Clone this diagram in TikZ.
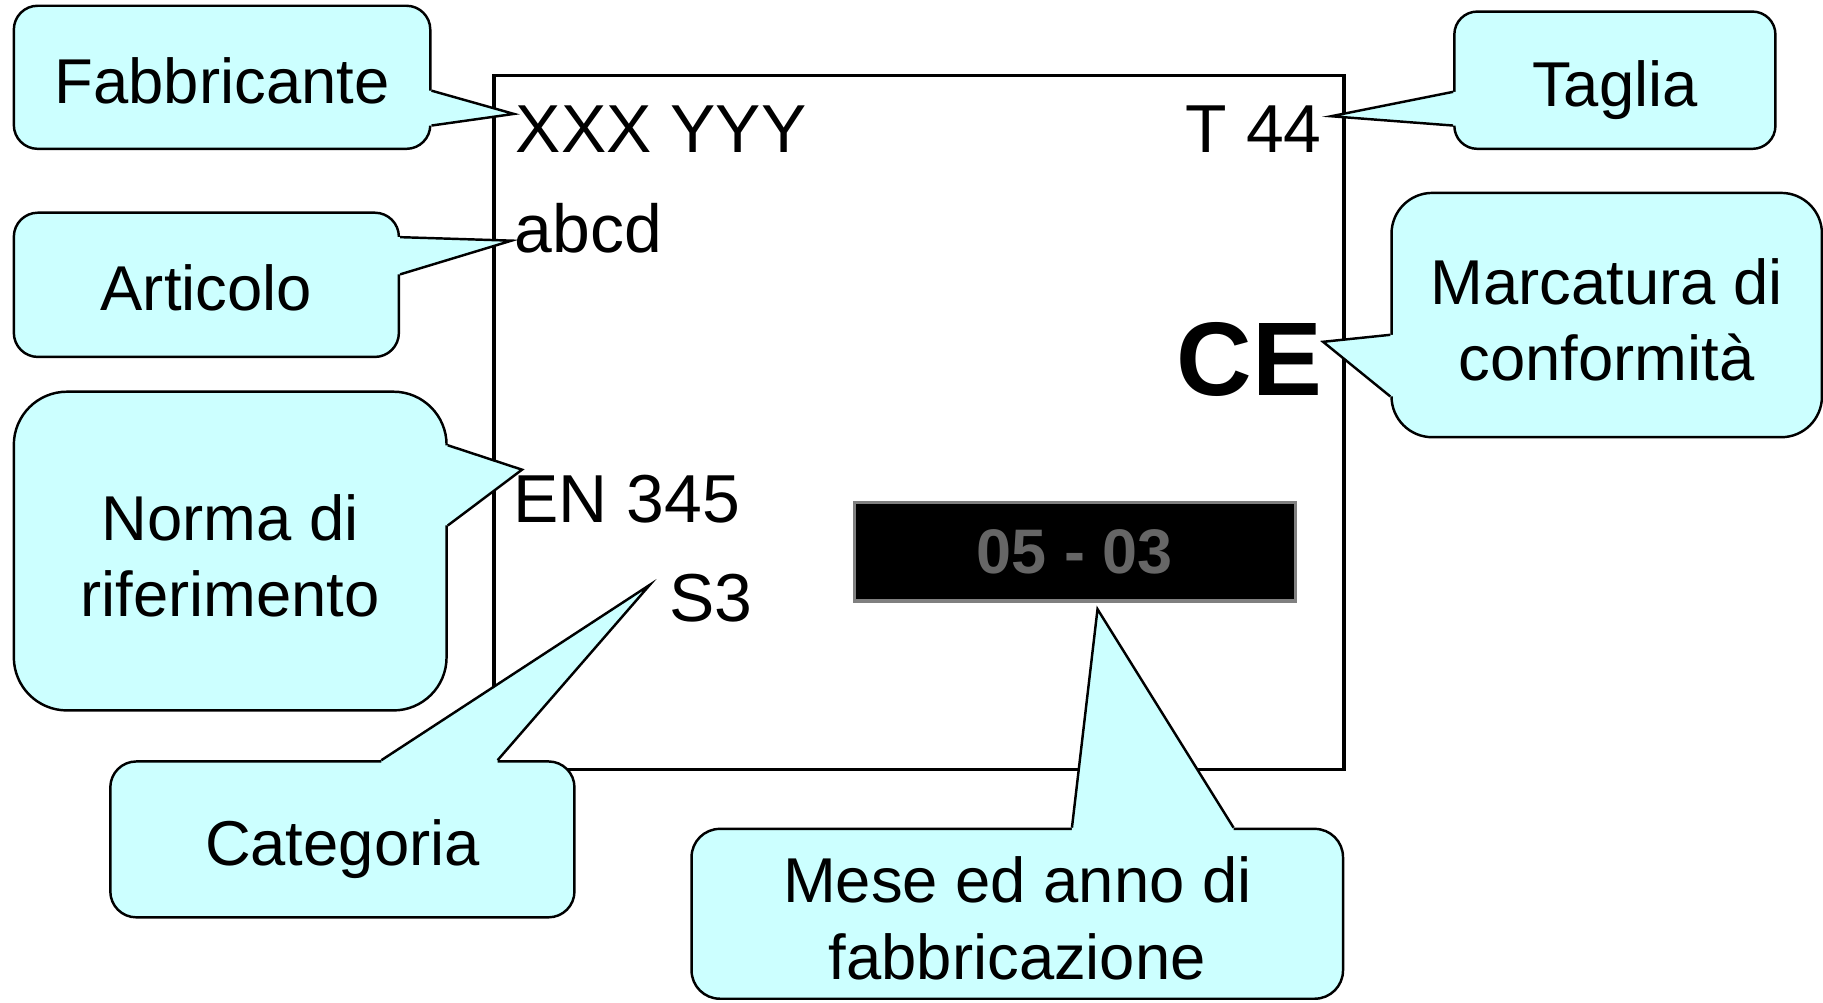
\documentclass[tikz,border=0pt]{standalone}
\usepackage{fontspec}
\setmainfont{Liberation Sans}
\usetikzlibrary{calc}
\definecolor{azzurro}{HTML}{CCFFFF}
\definecolor{grigiodata}{HTML}{666666}
\definecolor{grigiobordo}{HTML}{808080}

\tikzset{
  fumetto/.style={draw, line width=0.6pt, fill=azzurro, align=center, inner sep=0pt,
    text depth=0pt, text height=12.8pt, font=\fontsize{15.5}{18.7}\selectfont},
  duerighe/.style={text height=32pt},
  scritta/.style={inner sep=0pt, font=\fontsize{16.6}{20}\selectfont},
  bordo/.style={line width=0.6pt},
}

\begin{document}
\begin{tikzpicture}[x=0.01cm, y=-0.01cm]
    \useasboundingbox (0,0) rectangle (1568,862);

    % etichetta
    \draw[line width=0.8pt] (425,65) rectangle (1156,662);
    \node[scritta, anchor=base west] (xxx) at (443,131) {XXX YYY};
    \node[scritta, anchor=base east] (t44) at (1137.5,131) {T 44};
    \node[scritta, anchor=base west] (abcd) at (442,217) {abcd};
    \node[inner sep=0pt, anchor=base east, font=\fontsize{25.6}{30}\selectfont\bfseries] (ce) at (1138,340) {CE};
    \node[scritta, anchor=base west] (en) at (441,449) {EN 345};
    \node[scritta, anchor=base west] (s3) at (575,535) {S3};
    \node[draw=grigiobordo, fill=black, line width=0.8pt, minimum width=3.79cm, minimum height=0.85cm,
          text=grigiodata, font=\fontsize{15.4}{18}\selectfont\bfseries] (data) at (924.5,474.5) {05 - 03};

    % punte dei fumetti
    \coordinate (pFab) at (442,98);
    \coordinate (pArt) at (440,207);
    \coordinate (pNor) at (449,404);
    \coordinate (pCat) at (559,503);
    \coordinate (pMes) at (944,524);
    \coordinate (pTag) at (1145,100);
    \coordinate (pMar) at (1138,294);

    % Fabbricante
    \node[fumetto, minimum width=3.58cm, minimum height=1.23cm, rounded corners=0.205cm] (fab) at (191,66.5) {Fabbricante};
    \coordinate (fab1) at (fab.east |- 0,78);
    \coordinate (fab2) at (fab.east |- 0,108);
    \fill[azzurro] ([xshift=-1.5pt]fab1) -- (fab1) -- (pFab) -- (fab2) -- ([xshift=-1.5pt]fab2) -- cycle;
    \draw[bordo] (fab1) -- (pFab) -- (fab2);

    % Articolo
    \node[fumetto, minimum width=3.31cm, minimum height=1.24cm, rounded corners=0.207cm] (art) at (177.5,245) {Articolo};
    \coordinate (art1) at (art.east |- 0,204);
    \coordinate (art2) at (art.east |- 0,236);
    \fill[azzurro] ([xshift=-1.5pt]art1) -- (art1) -- (pArt) -- (art2) -- ([xshift=-1.5pt]art2) -- cycle;
    \draw[bordo] (art1) -- (pArt) -- (art2);

    % Norma di riferimento
    \node[fumetto, duerighe, minimum width=3.72cm, minimum height=2.74cm, rounded corners=0.457cm] (nor) at (198,474) {Norma di\\riferimento};
    \coordinate (nor1) at (nor.east |- 0,383);
    \coordinate (nor2) at (nor.east |- 0,452);
    \fill[azzurro] ([xshift=-1.5pt]nor1) -- (nor1) -- (pNor) -- (nor2) -- ([xshift=-1.5pt]nor2) -- cycle;
    \draw[bordo] (nor1) -- (pNor) -- (nor2);

    % Categoria
    \node[fumetto, minimum width=3.99cm, minimum height=1.34cm, rounded corners=0.223cm] (cat) at (294.5,722) {Categoria};
    \coordinate (cat1) at (cat.north -| 328,0);
    \coordinate (cat2) at (cat.north -| 428,0);
    \fill[azzurro] ([yshift=-1.5pt]cat1) -- (cat1) -- (pCat) -- (cat2) -- ([yshift=-1.5pt]cat2) -- cycle;
    \draw[bordo] (cat1) -- (pCat) -- (cat2);

    % Mese ed anno di fabbricazione
    \node[fumetto, duerighe, minimum width=5.60cm, minimum height=1.46cm, rounded corners=0.243cm] (mes) at (875,786) {Mese ed anno di\\fabbricazione};
    \coordinate (mes1) at (mes.north -| 922,0);
    \coordinate (mes2) at (mes.north -| 1061,0);
    \fill[azzurro] ([yshift=-1.5pt]mes1) -- (mes1) -- (pMes) -- (mes2) -- ([yshift=-1.5pt]mes2) -- cycle;
    \draw[bordo] (mes1) -- (pMes) -- (mes2);

    % Taglia
    \node[fumetto, minimum width=2.76cm, minimum height=1.18cm, rounded corners=0.197cm] (tag) at (1389,69) {Taglia};
    \coordinate (tag1) at (tag.west |- 0,79);
    \coordinate (tag2) at (tag.west |- 0,108);
    \fill[azzurro] ([xshift=1.5pt]tag1) -- (tag1) -- (pTag) -- (tag2) -- ([xshift=1.5pt]tag2) -- cycle;
    \draw[bordo] (tag1) -- (pTag) -- (tag2);

    % Marcatura di conformita'
    \node[fumetto, duerighe, minimum width=3.70cm, minimum height=2.10cm, rounded corners=0.35cm] (mar) at (1382,271) {Marcatura di\\conformità};
    \coordinate (mar1) at (mar.west |- 0,288);
    \coordinate (mar2) at (mar.west |- 0,341);
    \fill[azzurro] ([xshift=1.5pt]mar1) -- (mar1) -- (pMar) -- (mar2) -- ([xshift=1.5pt]mar2) -- cycle;
    \draw[bordo] (mar1) -- (pMar) -- (mar2);
\end{tikzpicture}
\end{document}
